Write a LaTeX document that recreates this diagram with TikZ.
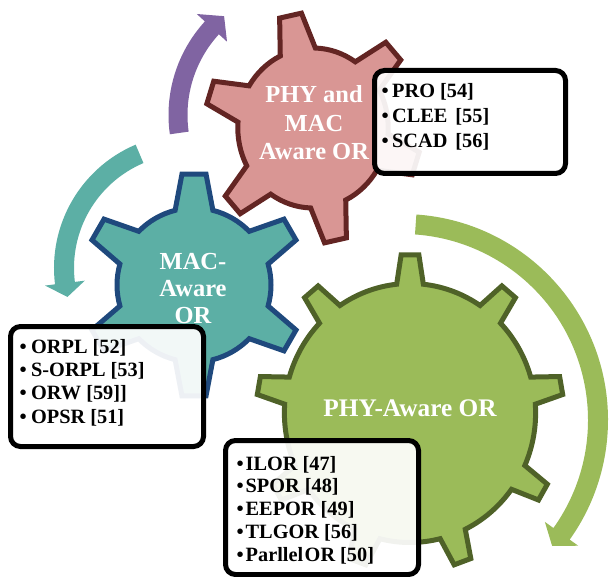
\documentclass[tikz,border=0pt]{standalone}
\usepackage{fontspec}
\setmainfont{Liberation Serif}

\definecolor{pinkfill}{HTML}{D99694}
\definecolor{pinkline}{HTML}{632523}
\definecolor{tealfill}{HTML}{5CAFA5}
\definecolor{tealline}{HTML}{1F497D}
\definecolor{greenfill}{HTML}{9BBB59}
\definecolor{greenline}{HTML}{4F6228}
\definecolor{arrowpurple}{HTML}{8064A2}

% #1 style, #2 number of teeth, #3 tip radius, #4 root radius,
% #5 half-angle of a tooth at its tip, #6 half-angle of a tooth at its root
\newcommand\gearshape[6]{%
  \filldraw[#1] (90-#6:#4)
    \foreach \k in {1,...,#2}{
      -- ({90+(\k-1)*360/#2-#5}:#3) -- ({90+(\k-1)*360/#2+#5}:#3)
      -- ({90+(\k-1)*360/#2+#6}:#4)
      arc[start angle={90+(\k-1)*360/#2+#6}, end angle={90+\k*360/#2-#6}, radius=#4]
    } -- cycle;}

\begin{document}
\begin{tikzpicture}[x=1pt, y=1pt, yscale=-1,
  gearline/.style={line width=5pt, line join=miter},
  gearlabel/.style={text=white, font=\fontsize{24.5}{28.5}\selectfont\bfseries,
    align=center, inner sep=0pt},
  listbox/.style={draw=black, line width=5pt, rounded corners=10pt, fill=white,
    fill opacity=0.92, inner sep=0pt, outer sep=0pt},
  listtext/.style={text=black, font=\fontsize{20.3}{23.3}\selectfont\bfseries,
    align=left, anchor=west, inner sep=0pt},
]
\useasboundingbox (0,0) rectangle (610,577);

% circular arrows
\begin{scope}[shift={(307,115)}, yscale=-1]
  \fill[arrowpurple] (188:138.5) arc[start angle=188, end angle=137.5, radius=138.5]
    -- (137.5:149.5) -- (130:129) -- (137.5:108.5) -- (137.5:119.5)
    arc[start angle=137.5, end angle=188, radius=119.5] -- cycle;
\end{scope}
\begin{scope}[shift={(188,268)}, yscale=-1]
  \fill[tealfill] (113:134) arc[start angle=113, end angle=187, radius=134]
    -- (187:144) -- (193.5:124) -- (187:104) -- (187:114)
    arc[start angle=187, end angle=113, radius=114] -- cycle;
\end{scope}
\begin{scope}[shift={(402,420)}, yscale=-1]
  \fill[greenfill] (86:206) arc[start angle=86, end angle=-35.5, radius=206]
    -- (-35.5:216.5) -- (-40:196) -- (-35.5:175.5) -- (-35.5:186)
    arc[start angle=-35.5, end angle=86, radius=186] -- cycle;
\end{scope}

% gears
\begin{scope}[shift={(313,128)}, yscale=-1, xscale=0.94, rotate=12]
  \gearshape{fill=pinkfill, draw=pinkline, gearline}{6}{115.5}{80}{5.9}{13.8}
\end{scope}
\begin{scope}[shift={(194,285)}, yscale=-1]
  \gearshape{fill=tealfill, draw=tealline, gearline}{6}{111.5}{77}{6.2}{14.2}
\end{scope}
\begin{scope}[shift={(410,413)}, yscale=-1, xscale=0.97]
  \gearshape{fill=greenfill, draw=greenline, gearline}{9}{158.5}{129.5}{3.3}{6.1}
\end{scope}

% gear labels
\node[gearlabel] (phymac) at (314,123) {PHY and\\MAC\\Aware OR};
\node[gearlabel, font=\fontsize{24.5}{27}\selectfont\bfseries] (mac) at (193,289) {MAC-\\Aware\\OR};
\node[gearlabel, font=\fontsize{25.3}{28.5}\selectfont\bfseries] (phy) at (410,408) {PHY-Aware OR};

% list boxes
\node[listbox, minimum width=191pt, minimum height=103pt] (phymacbox) at (470,122) {};
\node[listbox, minimum width=193pt, minimum height=120pt] (macbox) at (107,386.5) {};
\node[listbox, minimum width=193pt, minimum height=134pt] (phybox) at (322,507.5) {};

\node[listtext, font=\fontsize{20.3}{25}\selectfont\bfseries] (phymaclist) at (381.4,116.5)
  {•\kern3.5pt PRO [54]\\•\kern3.5pt CLEE\hspace{8pt}[55]\\•\kern3.5pt SCAD\hspace{8pt}[56]};
\node[listtext] (maclist) at (19.4,382.5)
  {•\kern4.5pt ORPL [52]\\•\kern4.5pt S-ORPL [53]\\•\kern4.5pt ORW [59]]\\•\kern4.5pt OPSR [51]};
\node[listtext, font=\fontsize{20.3}{22.8}\selectfont\bfseries] (phylist) at (236.4,510)
  {•\kern2pt ILOR [47]\\•\kern2pt SPOR [48]\\•\kern2pt EEPOR [49]\\•\kern2pt TLGOR [56]\\•\kern2pt Parllel\kern1.5pt OR [50]};
\end{tikzpicture}
\end{document}
